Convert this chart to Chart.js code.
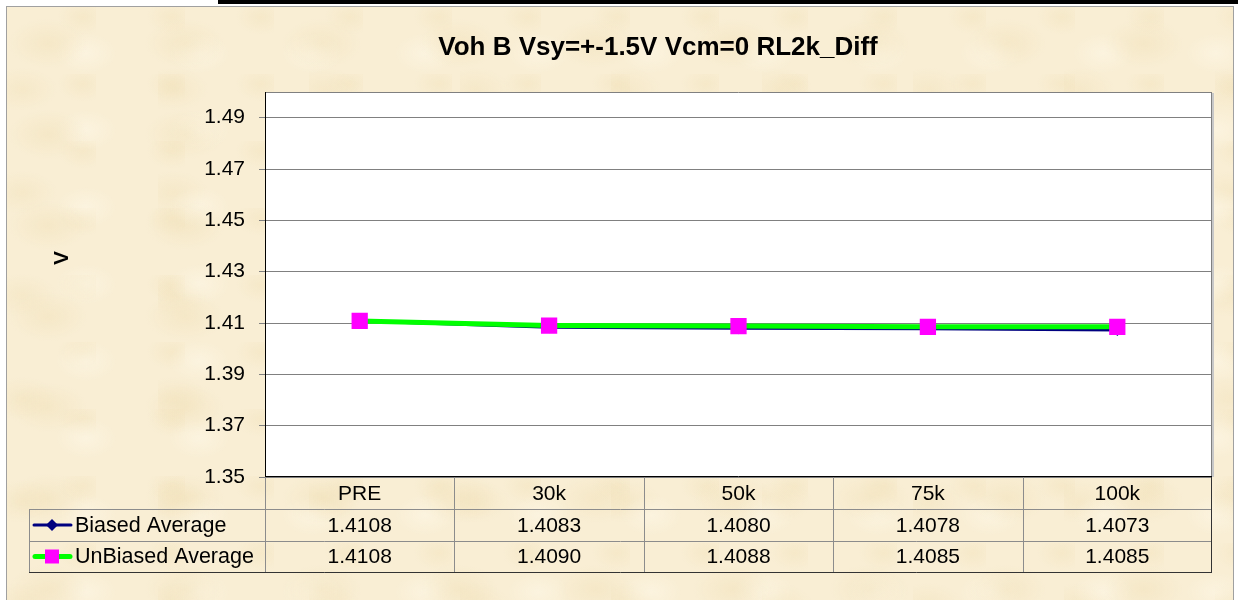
<!DOCTYPE html>
<html>
<head>
<meta charset="utf-8">
<script src="https://cdn.jsdelivr.net/npm/chart.js@4/dist/chart.umd.min.js"></script>
<style>
  html, body { margin: 0; padding: 0; background: #ffffff; width: 1238px; height: 600px; overflow: hidden; }
  #bar { position: absolute; left: 218px; top: 0; width: 1020px; height: 4px; background: #000; }
  #frame {
    position: absolute; left: 6px; top: 6px; width: 1226px; height: 600px;
    border-left: 1px solid #a0a0a0; border-top: 1px solid #a0a0a0; border-right: 1px solid #a0a0a0;
    background-color: #f9eed4;
    background-image:
      radial-gradient(ellipse 40px 25px at 30% 40%, rgba(238,220,175,0.35), transparent),
      radial-gradient(ellipse 30px 20px at 70% 60%, rgba(255,250,236,0.45), transparent),
      radial-gradient(ellipse 35px 22px at 10% 80%, rgba(238,220,175,0.30), transparent),
      radial-gradient(ellipse 25px 18px at 85% 15%, rgba(238,220,175,0.30), transparent);
    background-size: 137px 91px, 113px 77px, 151px 103px, 89px 67px;
  }
  #wrap { position: absolute; left: 0; top: 0; width: 1238px; height: 600px; }
</style>
</head>
<body>
<div id="bar"></div>
<div id="frame"></div>
<div id="wrap"><canvas id="c" width="1238" height="600"></canvas></div>
<script>
const categories = ['PRE', '30k', '50k', '75k', '100k'];
const biasedAverage = [1.4108, 1.4083, 1.4080, 1.4078, 1.4073];
const unbiasedAverage = [1.4108, 1.4090, 1.4088, 1.4085, 1.4085];
const yTicks = [1.35, 1.37, 1.39, 1.41, 1.43, 1.45, 1.47, 1.49];
const seriesNames = ['Biased Average', 'UnBiased Average'];
const chartTitle = 'Voh B Vsy=+-1.5V Vcm=0 RL2k_Diff';
const yTitle = 'V';

const FONT = "'Liberation Sans', Arial, sans-serif";
const PAD_LEFT = 104;

const tablePlugin = {
  id: 'excelTable',
  beforeDraw(chart) {
    const a = chart.chartArea, ctx = chart.ctx;
    ctx.save();
    ctx.fillStyle = '#ffffff';
    ctx.fillRect(a.left, a.top, a.right - a.left, a.bottom - a.top);
    ctx.restore();
  },
  afterDraw(chart) {
    const a = chart.chartArea, ctx = chart.ctx, x = chart.scales.x;
    const n = categories.length;
    const colW = (a.right - a.left) / n;
    const rowH = 32;
    const r0 = a.bottom, r1 = r0 + rowH, r2 = r1 + rowH, r3 = r2 + 31;
    const legL = 29;
    ctx.save();
    // plot border
    ctx.lineWidth = 1;
    ctx.strokeStyle = '#808080';
    ctx.beginPath();
    ctx.moveTo(a.left, a.top + 0.5); ctx.lineTo(a.right, a.top + 0.5);
    ctx.moveTo(a.right - 0.5, a.top); ctx.lineTo(a.right - 0.5, a.bottom);
    ctx.stroke();
    ctx.strokeStyle = '#c8c8c8';
    ctx.lineWidth = 2;
    ctx.beginPath();
    ctx.moveTo(a.right + 1, a.top + 1); ctx.lineTo(a.right + 1, a.bottom);
    ctx.stroke();
    ctx.lineWidth = 1;
    ctx.strokeStyle = '#000000';
    ctx.beginPath();
    ctx.moveTo(a.left + 0.5, a.top); ctx.lineTo(a.left + 0.5, a.bottom);
    ctx.moveTo(a.left, a.bottom - 0.5); ctx.lineTo(a.right, a.bottom - 0.5);
    ctx.stroke();

    // table grid
    ctx.strokeStyle = '#8c8c8c';
    ctx.beginPath();
    [r1, r2].forEach(y => { ctx.moveTo(legL, y + 0.5); ctx.lineTo(a.right, y + 0.5); });
    ctx.moveTo(legL + 0.5, r1); ctx.lineTo(legL + 0.5, r3);
    ctx.moveTo(a.left + 0.5, r0); ctx.lineTo(a.left + 0.5, r3);
    for (let i = 1; i < n; i++) {
      const xx = Math.round(a.left + i * colW) + 0.5;
      ctx.moveTo(xx, r0); ctx.lineTo(xx, r3);
    }
    ctx.stroke();
    ctx.strokeStyle = '#333333';
    ctx.beginPath();
    ctx.moveTo(legL, r3 + 0.5); ctx.lineTo(a.right, r3 + 0.5);
    ctx.moveTo(a.right - 0.5, r0); ctx.lineTo(a.right - 0.5, r3 + 1);
    ctx.stroke();

    // text
    ctx.fillStyle = '#000';
    ctx.font = '21px ' + FONT;
    ctx.textAlign = 'center';
    ctx.textBaseline = 'middle';
    for (let i = 0; i < n; i++) {
      const cx = x.getPixelForValue(i);
      ctx.fillText(categories[i], cx, (r0 + r1) / 2 + 1);
      ctx.fillText(biasedAverage[i].toFixed(4), cx, (r1 + r2) / 2 + 1);
      ctx.fillText(unbiasedAverage[i].toFixed(4), cx, (r2 + r3) / 2 + 1);
    }
    // legend keys
    const y1 = (r1 + r2) / 2, y2 = (r2 + r3) / 2;
    ctx.lineCap = 'round';
    ctx.strokeStyle = '#000080'; ctx.lineWidth = 3;
    ctx.beginPath(); ctx.moveTo(34, y1); ctx.lineTo(71, y1); ctx.stroke();
    ctx.fillStyle = '#000080';
    ctx.beginPath(); ctx.moveTo(52, y1 - 6); ctx.lineTo(58, y1); ctx.lineTo(52, y1 + 6); ctx.lineTo(46, y1); ctx.closePath(); ctx.fill();
    ctx.strokeStyle = '#00ff00'; ctx.lineWidth = 5;
    ctx.beginPath(); ctx.moveTo(35, y2); ctx.lineTo(70, y2); ctx.stroke();
    ctx.fillStyle = '#ff00ff';
    ctx.fillRect(45, y2 - 7, 14, 14);
    ctx.fillStyle = '#000';
    ctx.textAlign = 'left';
    ctx.font = '21.5px ' + FONT;
    ctx.fillText(seriesNames[0], 75, y1 + 1);
    ctx.fillText(seriesNames[1], 75, y2 + 1);

    // y axis title
    ctx.save();
    ctx.translate(62, 258);
    ctx.rotate(-Math.PI / 2);
    ctx.font = 'bold 21px ' + FONT;
    ctx.textAlign = 'center';
    ctx.textBaseline = 'middle';
    ctx.fillText(yTitle, 0, 0);
    ctx.restore();
    ctx.restore();
  }
};

new Chart(document.getElementById('c'), {
  type: 'line',
  data: {
    labels: categories,
    datasets: [
      {
        label: seriesNames[0], data: biasedAverage, order: 1,
        borderColor: '#000080', backgroundColor: '#000080', borderWidth: 3,
        pointStyle: 'rectRot', pointRadius: 6, pointBorderWidth: 0,
        pointBackgroundColor: '#000080', tension: 0
      },
      {
        label: seriesNames[1], data: unbiasedAverage, order: 0,
        borderColor: '#00ff00', backgroundColor: '#ff00ff', borderWidth: 5,
        pointStyle: 'rect', pointRadius: 11.5, pointBorderWidth: 0,
        pointBackgroundColor: '#ff00ff', tension: 0
      }
    ]
  },
  options: {
    responsive: false,
    animation: false,
    layout: { padding: { left: PAD_LEFT, right: 26, top: 0, bottom: 123 } },
    plugins: {
      legend: { display: false },
      tooltip: { enabled: false },
      title: {
        display: true, text: chartTitle, color: '#000',
        font: { family: FONT, size: 26, weight: 'bold', lineHeight: 1.2 },
        padding: { top: 32, bottom: 28.8 }
      }
    },
    scales: {
      x: { type: 'category', offset: true, display: false },
      y: {
        min: 1.35, max: 1.50,
        afterBuildTicks(scale) { scale.ticks = yTicks.map(v => ({ value: v })); },
        afterFit(scale) { scale.width = 265 - PAD_LEFT; },
        ticks: {
          color: '#000', padding: 14,
          font: { family: FONT, size: 21 },
          callback: v => v.toFixed(2)
        },
        grid: { color: '#808080', tickColor: '#808080', tickLength: 6, lineWidth: 1 },
        border: { display: true, color: '#000' }
      }
    }
  },
  plugins: [tablePlugin]
});
</script>
</body>
</html>
